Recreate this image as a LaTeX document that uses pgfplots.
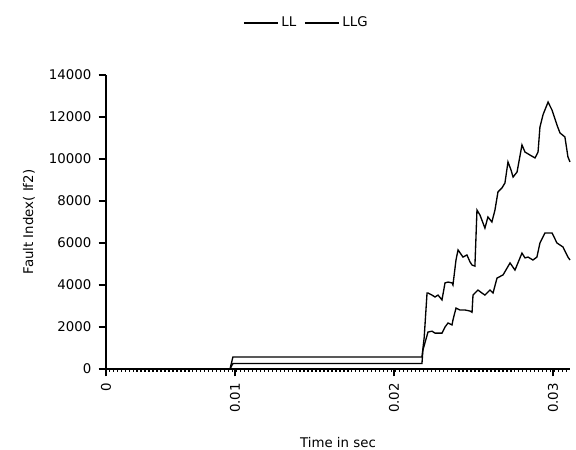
\documentclass[border=0pt]{standalone}
\usepackage{fontspec}
\setmainfont{DejaVu Sans}
\usepackage{pgfplots}
\pgfplotsset{compat=1.18}
\begin{document}
\begin{tikzpicture}
\path[use as bounding box] (-79.5pt,-60.75pt) rectangle (352.5pt,276.75pt);
\begin{axis}[
  at={(0pt,0pt)}, anchor=origin,
  scale only axis, width=348pt, height=220.5pt,
  xmin=0.00189, xmax=0.03107, ymin=0, ymax=14000,
  axis x line*=bottom, axis y line*=left,
  axis line style={line width=0.9pt, -},
  tick align=outside,
  major tick length=5.5pt, minor tick length=2pt,
  tick style={black, line width=0.9pt},
  minor tick style={black, line width=1pt},
  xtick={0.00189,0.01,0.02,0.03},
  xticklabels={0,0.01,0.02,0.03},
  minor xtick={0.0021,0.00235,...,0.031},
  ytick={0,2000,...,14000},
  scaled x ticks=false, scaled y ticks=false,
  yticklabel={\pgfmathprintnumber[fixed,1000 sep={}]{\tick}},
  /pgf/number format/assume math mode=true,
  ticklabel style={font=\fontsize{10}{12}\selectfont},
  xticklabel style={rotate=90, anchor=east, xshift=-1.5pt},
  yticklabel style={xshift=-2pt},
  xlabel={Time in sec},
  ylabel={Fault Index( If2)},
  label style={font=\fontsize{10}{12}\selectfont},
  xlabel style={at={(axis description cs:0.5,-0.2517)}, anchor=center},
  ylabel style={at={(axis description cs:-0.166,0.5)}, anchor=center},
  clip=false,
  legend columns=2,
  legend style={at={(axis description cs:0.2953,1.177)}, anchor=west, draw=none, fill=none,
    font=\fontsize{10}{12}\selectfont, inner sep=0pt,
    /tikz/every even column/.append style={column sep=4pt}},
  legend image code/.code={\draw[#1] (0cm,0cm) -- (0.9cm,0cm);},
]
\addplot[black, line width=1pt] coordinates {
(0.00189,0) (0.00969,0) (0.00987,570) (0.02176,570) (0.02190,1500) (0.02208,3620)
(0.02214,3620) (0.02239,3520) (0.02258,3430) (0.02277,3520) (0.02302,3290) (0.02321,4100)
(0.02340,4140) (0.02365,4100) (0.02371,4000) (0.02390,5190) (0.02403,5670) (0.02434,5330)
(0.02459,5430) (0.02478,5100) (0.02491,4950) (0.02509,4900) (0.02522,7570) (0.02541,7330)
(0.02572,6710) (0.02591,7240) (0.02616,7000) (0.02635,7570) (0.02654,8430) (0.02679,8620)
(0.02698,8860) (0.02717,9860) (0.02736,9480) (0.02749,9140) (0.02774,9380) (0.02805,10670)
(0.02824,10330) (0.02855,10190) (0.02887,10050) (0.02906,10330) (0.02918,11520) (0.02937,12100)
(0.02969,12710) (0.02994,12330) (0.03025,11620) (0.03044,11240) (0.03075,11050) (0.03094,10100)
(0.03107,9860)
};
\addlegendentry{LL}
\addplot[black, line width=1pt] coordinates {
(0.00189,0) (0.00969,0) (0.00987,260) (0.02176,260) (0.02182,900) (0.02214,1760)
(0.02239,1800) (0.02258,1710) (0.02302,1710) (0.02321,2000) (0.02340,2190) (0.02365,2100)
(0.02371,2330) (0.02390,2900) (0.02415,2810) (0.02447,2810) (0.02478,2760) (0.02491,2700)
(0.02497,3520) (0.02528,3760) (0.02553,3620) (0.02572,3520) (0.02604,3760) (0.02623,3620)
(0.02648,4330) (0.02686,4480) (0.02730,5050) (0.02761,4710) (0.02805,5520) (0.02824,5290)
(0.02843,5330) (0.02874,5190) (0.02899,5330) (0.02918,6000) (0.02950,6480) (0.02994,6480)
(0.03025,6000) (0.03063,5810) (0.03094,5330) (0.03107,5190)
};
\addlegendentry{LLG}
\end{axis}
\end{tikzpicture}
\end{document}
